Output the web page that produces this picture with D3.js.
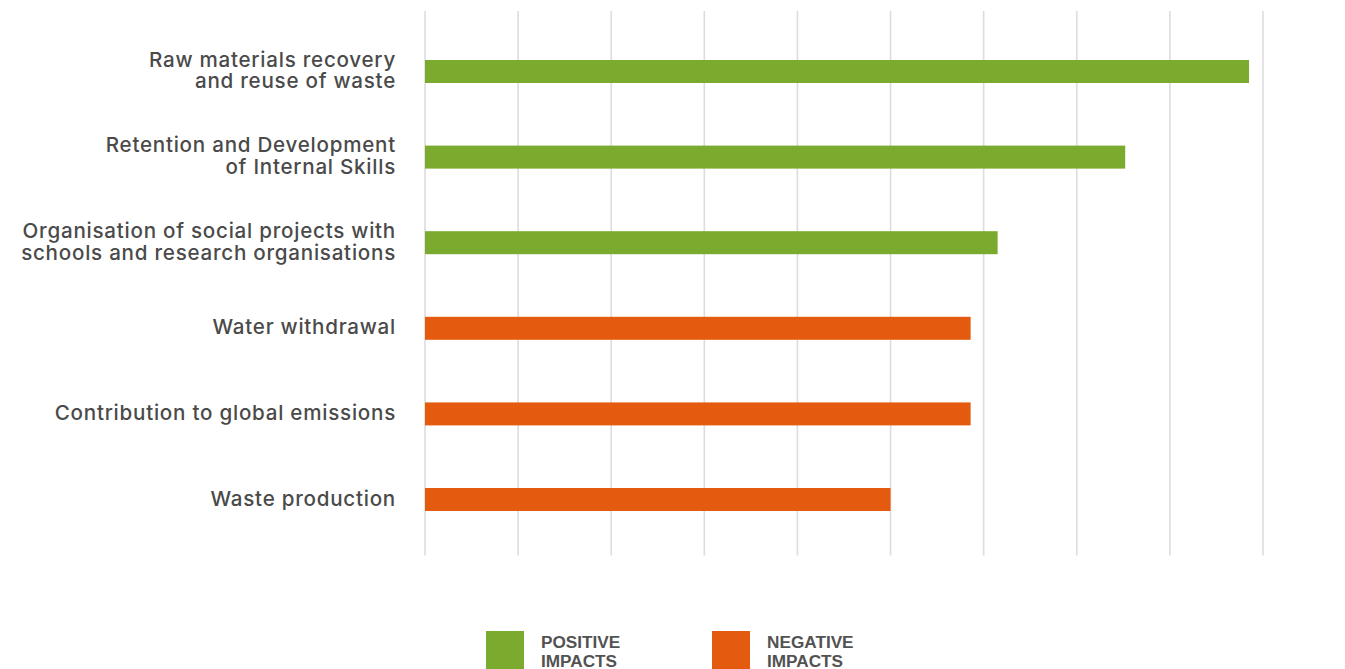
<!DOCTYPE html>
<html>
<head>
<meta charset="utf-8">
<script src="https://cdn.jsdelivr.net/npm/d3@7"></script>
<style>
  html, body { margin: 0; padding: 0; background: #fff; }
  svg { display: block; }
</style>
</head>
<body>
<svg id="chart" width="1345" height="669"></svg>
<script>
// ---- data ----
const categories = [
  ["Raw materials recovery", "and reuse of waste"],
  ["Retention and Development", "of Internal Skills"],
  ["Organisation of social projects with", "schools and research organisations"],
  ["Water withdrawal"],
  ["Contribution to global emissions"],
  ["Waste production"]
];
const values = [8.85, 7.52, 6.15, 5.86, 5.86, 5.0];
const impactType = ["positive", "positive", "positive", "negative", "negative", "negative"];
const gridTicks = [0, 1, 2, 3, 4, 5, 6, 7, 8, 9];
const legendItems = [
  { key: "positive", label: ["POSITIVE", "IMPACTS"] },
  { key: "negative", label: ["NEGATIVE", "IMPACTS"] }
];

// ---- styling ----
const colors = { positive: "#7aab2e", negative: "#e45b10" };
const svg = d3.select("#chart");

const x = d3.scaleLinear().domain([0, 9]).range([425, 1263]);
const y = d3.scaleBand().domain(d3.range(categories.length)).range([28.7, 542.3]).paddingInner(0.73).paddingOuter(0.365);

// gridlines
svg.append("g").selectAll("line").data(gridTicks).join("line")
  .attr("x1", d => x(d)).attr("x2", d => x(d))
  .attr("y1", 11).attr("y2", 555.5)
  .attr("stroke", "#dcdce1").attr("stroke-width", 1.6);

// bars
svg.append("g").selectAll("rect").data(values).join("rect")
  .attr("x", x(0))
  .attr("y", (d, i) => y(i) + y.bandwidth() / 2 - 11.5)
  .attr("width", d => x(d) - x(0))
  .attr("height", 23)
  .attr("fill", (d, i) => colors[impactType[i]]);

// category labels
const lab = svg.append("g").selectAll("text").data(categories).join("text")
  .attr("text-anchor", "end")
  .attr("font-family", "Inter, Liberation Sans, Arial, sans-serif")
  .attr("font-weight", 500)
  .attr("font-size", 20.6)
  .attr("letter-spacing", 0.75)
  .attr("fill", "#4a4a4a");
lab.each(function(lines, i) {
  const cy = y(i) + y.bandwidth() / 2;
  const lh = 21.8;
  const n = lines.length;
  d3.select(this).selectAll("tspan").data(lines).join("tspan")
    .attr("x", 396)
    .attr("y", (l, j) => cy + (j - (n - 1) / 2) * lh + 6)
    .text(l => l);
});

// legend
const legX = [486, 712];
const lg = svg.append("g").selectAll("g").data(legendItems).join("g")
  .attr("transform", (d, i) => `translate(${legX[i]},631)`);
lg.append("rect").attr("width", 38).attr("height", 40).attr("fill", d => colors[d.key]);
lg.append("text")
  .attr("font-family", "Liberation Sans, Arial, sans-serif")
  .attr("font-weight", "bold")
  .attr("font-size", 17.2)
  .attr("fill", "#525252")
  .selectAll("tspan").data(d => d.label).join("tspan")
  .attr("x", 55)
  .attr("y", (l, j) => 17 + j * 18.5)
  .text(l => l);
</script>
</body>
</html>
